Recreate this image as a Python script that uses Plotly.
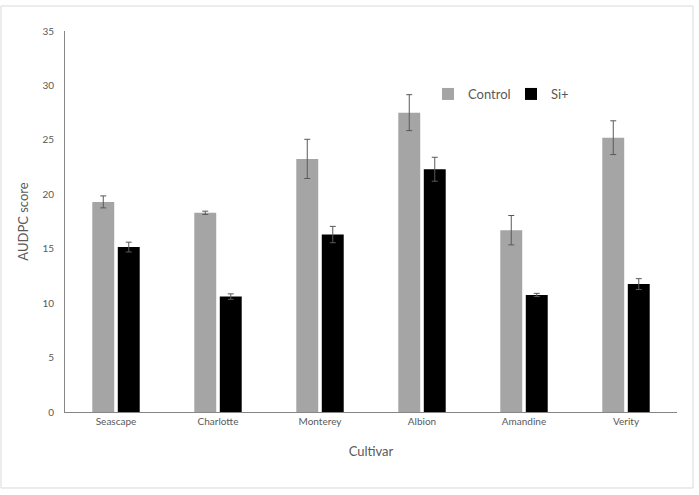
import plotly.graph_objects as go

cultivars = ["Seascape", "Charlotte", "Monterey", "Albion", "Amandine", "Verity"]
control = [19.3, 18.3, 23.25, 27.5, 16.7, 25.2]
control_err = [0.55, 0.15, 1.8, 1.65, 1.35, 1.55]
si_plus = [15.15, 10.6, 16.3, 22.3, 10.75, 11.75]
si_err = [0.45, 0.25, 0.75, 1.1, 0.15, 0.5]

font_family = "Lato, 'Open Sans', sans-serif"

fig = go.Figure()
fig.add_trace(go.Bar(
    x=cultivars, y=control, name="Control",
    marker=dict(color="#A5A5A5", line=dict(width=0)),
    error_y=dict(type="data", array=control_err, visible=True,
                 color="#595959", thickness=1, width=3),
))
fig.add_trace(go.Bar(
    x=cultivars, y=si_plus, name="Si+",
    marker=dict(color="#000000", line=dict(width=0)),
    error_y=dict(type="data", array=si_err, visible=True,
                 color="#595959", thickness=1, width=3),
))

L, R, T, B = 65, 22, 31, 83
W, H = 699, 495
pw, ph = W - L - R, H - T - B

def px_x(p):
    return (p - L) / pw

def px_y(p):
    return (H - B - p) / ph

fig.update_layout(
    width=W, height=H,
    margin=dict(l=L, r=R, t=T, b=B, pad=0),
    paper_bgcolor="white", plot_bgcolor="white",
    barmode="group", bargap=0.5, bargroupgap=0.14,
    font=dict(family=font_family, color="#595959", size=10),
    showlegend=True,
    legend=dict(orientation="h", x=px_x(428), y=px_y(94),
                xanchor="left", yanchor="middle",
                font=dict(size=13, color="#595959"),
                bgcolor="rgba(0,0,0,0)", itemwidth=30,
                entrywidth=38, entrywidthmode="pixels",
                traceorder="normal"),
    xaxis=dict(
        showline=True, linecolor="#868686", linewidth=1,
        ticks="", showgrid=False,
        tickfont=dict(size=10, color="#595959"),
        title=dict(text="Cultivar", font=dict(size=13, color="#595959"), standoff=20),
    ),
    yaxis=dict(
        range=[0, 35], dtick=5, tick0=0,
        showline=True, linecolor="#868686", linewidth=1,
        ticks="", showgrid=False, zeroline=False,
        tickfont=dict(size=10, color="#595959"),
        ticklabelstandoff=8,
        title=dict(text="AUDPC score", font=dict(size=13, color="#595959"), standoff=10),
    ),
    shapes=[dict(
        type="rect", xref="paper", yref="paper",
        x0=px_x(1), x1=px_x(693), y0=px_y(488), y1=px_y(6),
        line=dict(color="#D9D9D9", width=1), fillcolor="rgba(0,0,0,0)",
        layer="below",
    )],
)

fig.write_html("out.html")
